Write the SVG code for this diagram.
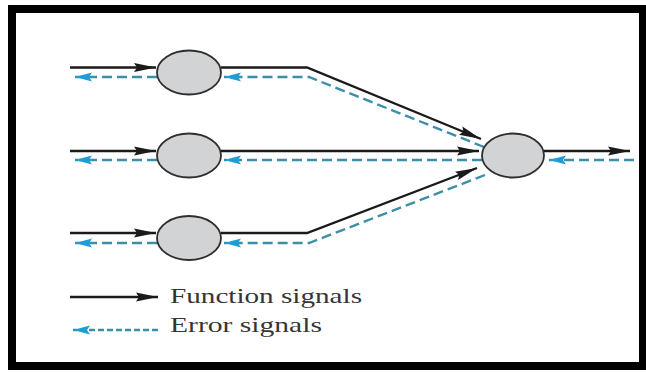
<svg xmlns="http://www.w3.org/2000/svg" width="646" height="372" viewBox="0 0 646 372">
<style>
.node{fill:#d2d3d5;stroke:#2e2e2e;stroke-width:1.8}
.fn{fill:none;stroke:#1a1a1a;stroke-width:2.3}
.err{fill:none;stroke:#3c8fa8;stroke-width:2.4;stroke-dasharray:10 5}
.lbl{font-family:"Liberation Serif","Times New Roman",serif;font-size:21px;fill:#353535}
</style>
<defs>
<marker id="ab" markerUnits="userSpaceOnUse" markerWidth="24" markerHeight="11" refX="22" refY="5" orient="auto">
<path d="M0,0.5 L22,5 L0,9.5 L3,5 z" fill="#1a1a1a"/>
</marker>
<marker id="ae" markerUnits="userSpaceOnUse" markerWidth="19" markerHeight="10" refX="17" refY="4.5" orient="auto">
<path d="M0,0 L17,4.5 L0,9 L3,4.5 z" fill="#1e9ed6"/>
</marker>
</defs>
<rect x="0" y="0" width="646" height="372" fill="#fff"/>
<rect id="frame" x="12" y="9" width="631" height="357" fill="#fff" stroke="#000" stroke-width="8"/>
<g id="connectors">
<path class="fn" d="M70 67.5 H156" marker-end="url(#ab)"/>
<path class="err" d="M157 77 H75" marker-end="url(#ae)"/>
<path class="fn" d="M221 67.5 H307 L481 139" marker-end="url(#ab)"/>
<path class="err" d="M484 147 L309 77 H224" marker-end="url(#ae)"/>
<path class="fn" d="M70 151 H156" marker-end="url(#ab)"/>
<path class="err" d="M157 160 H75" marker-end="url(#ae)"/>
<path class="fn" d="M221 151 H479" marker-end="url(#ab)"/>
<path class="err" d="M482 160 H224" marker-end="url(#ae)"/>
<path class="fn" d="M70 233 H156" marker-end="url(#ab)"/>
<path class="err" d="M157 243 H75" marker-end="url(#ae)"/>
<path class="fn" d="M221 233 H307 L477 168" marker-end="url(#ab)"/>
<path class="err" d="M485 175 L309 243 H224" marker-end="url(#ae)"/>
<path class="fn" d="M544 151 H630" marker-end="url(#ab)"/>
<path class="err" d="M634 160 H549" marker-end="url(#ae)"/>
</g>
<g id="n1"><ellipse class="node" cx="189" cy="72.5" rx="32" ry="22"/></g>
<g id="n2"><ellipse class="node" cx="189" cy="155.5" rx="32" ry="22"/></g>
<g id="n3"><ellipse class="node" cx="189" cy="238" rx="32" ry="22"/></g>
<g id="n4"><ellipse class="node" cx="513" cy="155.5" rx="31" ry="22"/></g>
<g id="legend">
<path class="fn" d="M70 297 H158" marker-end="url(#ab)"/>
<path class="err" d="M158 330 H73" style="stroke-dasharray:6 3" marker-end="url(#ae)"/>
<text class="lbl" x="170" y="303" textLength="192" lengthAdjust="spacingAndGlyphs">Function signals</text>
<text class="lbl" x="170" y="332" textLength="152" lengthAdjust="spacingAndGlyphs">Error signals</text>
</g>
</svg>
